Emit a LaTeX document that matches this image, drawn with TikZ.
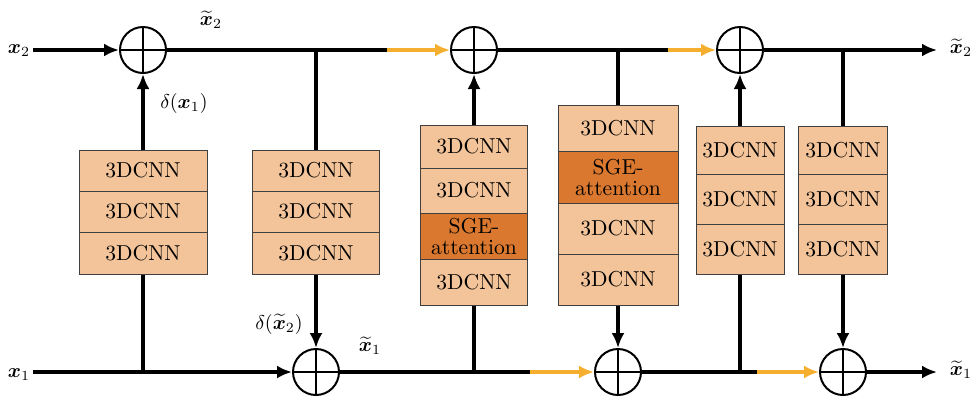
\documentclass[tikz,border=0pt]{standalone}
\usepackage{amsmath,bm}
\usetikzlibrary{arrows.meta}
\definecolor{lightor}{RGB}{243,196,154}
\definecolor{darkor}{RGB}{217,120,46}
\definecolor{arrowor}{RGB}{245,174,46}
\begin{document}
\begin{tikzpicture}[x=0.5pt,y=-0.5pt,
  cell/.style={draw=black!75, line width=0.5pt, fill=lightor, inner sep=0pt, align=center, font=\fontsize{10.8}{10.5}\selectfont},
  sge/.style={cell, fill=darkor},
  oplus/.style={circle, draw, line width=1pt, minimum size=23pt, inner sep=0pt,
    path picture={\draw[line width=1pt] (path picture bounding box.north) -- (path picture bounding box.south)
      (path picture bounding box.west) -- (path picture bounding box.east);}},
  wire/.style={line width=1.6pt},
  arr/.style={wire, -{Latex[length=7.5pt,width=6.5pt]}},
  oarr/.style={line width=1.6pt, arrowor, -{Latex[length=7.5pt,width=6.5pt]}},
  lab/.style={inner sep=0pt, font=\normalsize}]
\useasboundingbox (0,0) rectangle (973,397);
% sum nodes
\node[oplus] (c1) at (143,50) {};
\node[oplus] (c2) at (316,372) {};
\node[oplus] (c3) at (474,50) {};
\node[oplus] (c4) at (618,372) {};
\node[oplus] (c5) at (740,50) {};
\node[oplus] (c6) at (843,372) {};
% terminals
\coordinate (in2) at (33,50);
\coordinate (in1) at (33,372);
\coordinate (out2) at (937,50);
\coordinate (out1) at (937,372);
\coordinate (o1) at (387,50);
\coordinate (o2) at (668,50);
\coordinate (o3) at (530,372);
\coordinate (o4) at (757,372);
\coordinate (j1) at (143,372);
\coordinate (j2) at (316,50);
\coordinate (j3) at (474,372);
\coordinate (j4) at (618,50);
\coordinate (j5) at (740,372);
\coordinate (j6) at (843,50);
% box 1
\node[cell, minimum width=64pt, minimum height=20.5pt] (b1a) at (143,170.5) {3DCNN};
\node[cell, minimum width=64pt, minimum height=20.5pt] (b1b) at (143,211.5) {3DCNN};
\node[cell, minimum width=64pt, minimum height=21pt] (b1c) at (143,253) {3DCNN};
% box 2
\node[cell, minimum width=63.5pt, minimum height=20.5pt] (b2a) at (316,170.5) {3DCNN};
\node[cell, minimum width=63.5pt, minimum height=20.5pt] (b2b) at (316,211.5) {3DCNN};
\node[cell, minimum width=63.5pt, minimum height=21pt] (b2c) at (316,253) {3DCNN};
% box 3
\node[cell, minimum width=53.5pt, minimum height=21.5pt] (b3a) at (474,146.5) {3DCNN};
\node[cell, minimum width=53.5pt, minimum height=22.5pt] (b3b) at (474,190.5) {3DCNN};
\node[sge, minimum width=53.5pt, minimum height=23pt] (b3c) at (474,236) {SGE-\\attention};
\node[cell, minimum width=53.5pt, minimum height=23pt] (b3d) at (474,282) {3DCNN};
% box 4
\node[cell, minimum width=60pt, minimum height=23pt] (b4a) at (618,128) {3DCNN};
\node[sge, minimum width=60pt, minimum height=26pt] (b4b) at (618,177) {SGE-\\attention};
\node[cell, minimum width=60pt, minimum height=25.5pt] (b4c) at (618,228.5) {3DCNN};
\node[cell, minimum width=60pt, minimum height=25.5pt] (b4d) at (618,279.5) {3DCNN};
% box 5
\node[cell, minimum width=44pt, minimum height=24pt] (b5a) at (740,150) {3DCNN};
\node[cell, minimum width=44pt, minimum height=25pt] (b5b) at (740,199) {3DCNN};
\node[cell, minimum width=44pt, minimum height=25pt] (b5c) at (740,249) {3DCNN};
% box 6
\node[cell, minimum width=44.5pt, minimum height=24pt] (b6a) at (843,150) {3DCNN};
\node[cell, minimum width=44.5pt, minimum height=25pt] (b6b) at (843,199) {3DCNN};
\node[cell, minimum width=44.5pt, minimum height=25pt] (b6c) at (843,249) {3DCNN};
% top line
\draw[arr] (in2) -- (c1.west);
\draw[wire] (c1.east) -- (o1);
\draw[oarr] (o1) -- (c3.west);
\draw[wire] (c3.east) -- (o2);
\draw[oarr] (o2) -- (c5.west);
\draw[arr] (c5.east) -- (out2);
% bottom line
\draw[arr] (in1) -- (c2.west);
\draw[wire] (c2.east) -- (o3);
\draw[oarr] (o3) -- (c4.west);
\draw[wire] (c4.east) -- (o4);
\draw[oarr] (o4) -- (c6.west);
\draw[arr] (c6.east) -- (out1);
% verticals
\draw[arr] (b1a.north) -- (c1.south);
\draw[wire] (b1c.south) -- (j1);
\draw[wire] (j2) -- (b2a.north);
\draw[arr] (b2c.south) -- (c2.north);
\draw[arr] (b3a.north) -- (c3.south);
\draw[wire] (b3d.south) -- (j3);
\draw[wire] (j4) -- (b4a.north);
\draw[arr] (b4d.south) -- (c4.north);
\draw[arr] (b5a.north) -- (c5.south);
\draw[wire] (b5c.south) -- (j5);
\draw[wire] (j6) -- (b6a.north);
\draw[arr] (b6c.south) -- (c6.north);
% labels
\node[lab] (lx2) at (19,51) {$\bm{x}_2$};
\node[lab] (lx1) at (19,375) {$\bm{x}_1$};
\node[lab] (lt2) at (211,20) {$\widetilde{\bm{x}}_2$};
\node[lab] (ld1) at (184,103) {$\delta(\bm{x}_1)$};
\node[lab] (ld2) at (279,324) {$\delta(\widetilde{\bm{x}}_2)$};
\node[lab] (lt1) at (370,346) {$\widetilde{\bm{x}}_1$};
\node[lab] (lo2) at (961,48) {$\widetilde{\bm{x}}_2$};
\node[lab] (lo1) at (961,370) {$\widetilde{\bm{x}}_1$};
\end{tikzpicture}
\end{document}
